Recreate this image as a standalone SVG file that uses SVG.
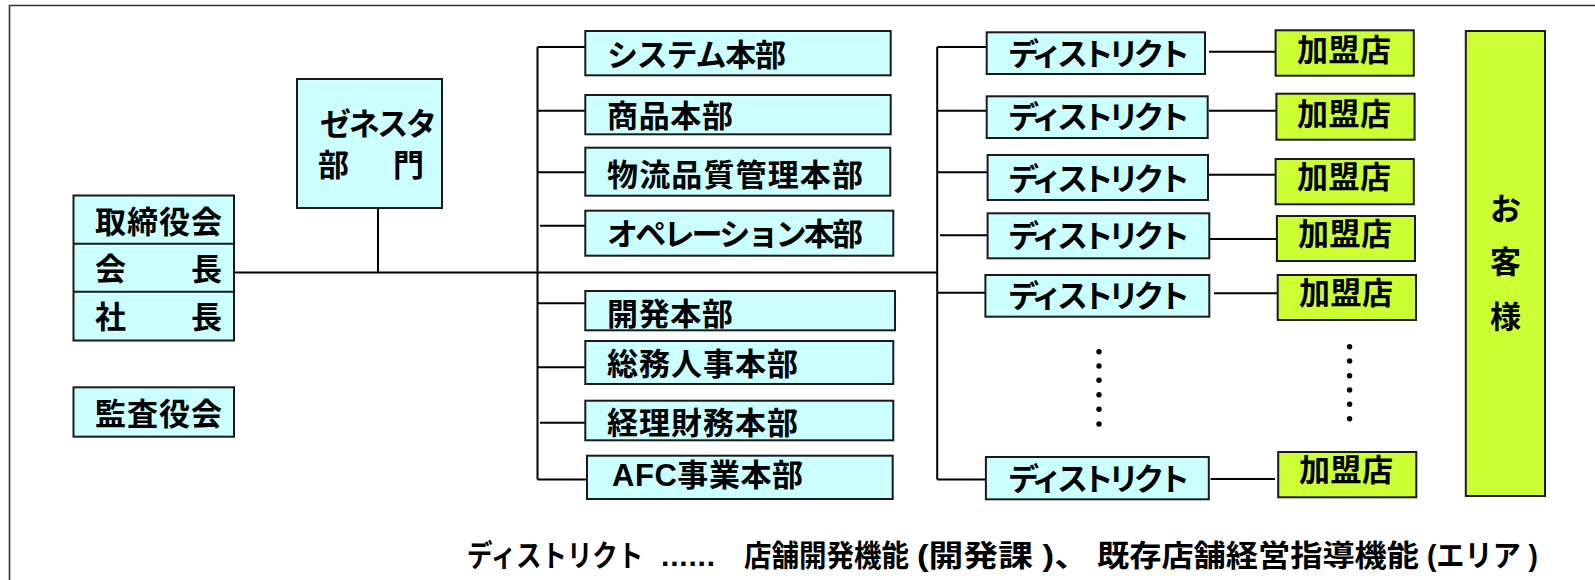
<svg xmlns="http://www.w3.org/2000/svg" width="1595" height="580" viewBox="0 0 1595 580">
<style>
.c{fill:#CCFFFF;stroke:#1a1a1a;stroke-width:2}
.y{fill:#CCFF33;stroke:#1a1a1a;stroke-width:2}
.t{font-family:"Liberation Sans","Noto Sans CJK JP",sans-serif;font-weight:bold;font-size:31px;fill:#000}
.n{font-size:30px}
.ln{stroke:#000;stroke-width:2;fill:none}
</style>
<rect x="0" y="0" width="1595" height="580" fill="#fff"/>
<path d="M9.5 580 V5.5 H1595" stroke="#333" stroke-width="1.6" fill="none"/>
<g id="connectors" class="ln">
<path d="M234 272.5 H937"/>
<path d="M378 208 V272.5"/>
<path d="M537.5 47 V479.5"/>
<path d="M537.5 47 H585"/>
<path d="M537.5 110.7 H585"/>
<path d="M537.5 172.3 H585"/>
<path d="M540 225.7 H588"/>
<path d="M537.5 303.3 H585"/>
<path d="M537.5 367.3 H585"/>
<path d="M540 422.7 H588"/>
<path d="M537.5 479.5 H587"/>
<path d="M937.2 47 V479.5"/>
<path d="M937.2 47 H987"/>
<path d="M937.2 110.7 H987"/>
<path d="M937.2 172.3 H988"/>
<path d="M940 235.3 H988"/>
<path d="M937.2 292.7 H985"/>
<path d="M937.2 479.5 H986"/>
<path d="M1209 51.7 H1276"/>
<path d="M1209 110.7 H1276"/>
<path d="M1209 174.7 H1276"/>
<path d="M1209 239 H1277"/>
<path d="M1214 293.3 H1278"/>
<path d="M1210.6 479 H1275"/>
</g>
<g id="zenesta"><rect class="c" x="297" y="79" width="145" height="129"/>
<text class="t" x="320" y="135" textLength="117">ゼネスタ</text>
<text class="t" x="318" y="176" textLength="106">部　門</text></g>
<g id="board"><rect class="c" x="73.5" y="195.5" width="160.5" height="145"/>
<path d="M73.5 243.7 H234 M73.5 291.7 H234" stroke="#1a1a1a" stroke-width="2"/>
<text class="t" x="95" y="233" textLength="127">取締役会</text>
<text class="t" x="95" y="279.5" textLength="127">会　　長</text>
<text class="t" x="95" y="328" textLength="127">社　　長</text></g>
<g id="audit"><rect class="c" x="73.5" y="387.3" width="160.5" height="49.4"/>
<text class="t" x="95" y="424.5" textLength="127">監査役会</text></g>
<g id="d-system"><rect class="c" x="585.3" y="31" width="305.4" height="44.3"/><text class="t" x="607" y="65.5" textLength="179">システム本部</text></g>
<g id="d-shohin"><rect class="c" x="585.3" y="95" width="305.4" height="39.3"/><text class="t" x="607" y="127" textLength="126">商品本部</text></g>
<g id="d-butsuryu"><rect class="c" x="585.3" y="147.7" width="305" height="48"/><text class="t" x="607" y="186" textLength="256">物流品質管理本部</text></g>
<g id="d-operation"><rect class="c" x="585.3" y="210.7" width="308" height="45"/><text class="t" x="607" y="244.5" textLength="256">オペレーション本部</text></g>
<g id="d-kaihatsu"><rect class="c" x="585.3" y="291" width="309.7" height="39.3"/><text class="t" x="607" y="324.5" textLength="126">開発本部</text></g>
<g id="d-somu"><rect class="c" x="585.3" y="341" width="308" height="43"/><text class="t" x="607" y="374.5" textLength="191">総務人事本部</text></g>
<g id="d-keiri"><rect class="c" x="585.3" y="400.7" width="308" height="39.6"/><text class="t" x="607" y="433.5" textLength="191">経理財務本部</text></g>
<g id="d-afc"><rect class="c" x="587" y="455.7" width="305.7" height="43.3"/><text class="t" x="612" y="486" textLength="191">AFC事業本部</text></g>
<g id="district1"><rect class="c" x="986.7" y="32.3" width="218.3" height="41.7"/><text class="t" x="1008" y="64.5" textLength="182">ディストリクト</text></g>
<g id="district2"><rect class="c" x="986.7" y="96.3" width="221" height="41.7"/><text class="t" x="1008" y="128" textLength="182">ディストリクト</text></g>
<g id="district3"><rect class="c" x="987.6" y="155" width="220.4" height="45"/><text class="t" x="1008" y="189.5" textLength="182">ディストリクト</text></g>
<g id="district4"><rect class="c" x="987.6" y="213.3" width="221.7" height="45"/><text class="t" x="1008" y="247" textLength="182">ディストリクト</text></g>
<g id="district5"><rect class="c" x="985.4" y="275" width="223.9" height="41.7"/><text class="t" x="1008" y="307" textLength="182">ディストリクト</text></g>
<g id="district6"><rect class="c" x="985.9" y="457" width="222.9" height="42.3"/><text class="t" x="1008" y="489.5" textLength="182">ディストリクト</text></g>
<g id="store1"><rect class="y" x="1275.6" y="30.3" width="138.2" height="45.4"/><text class="t" x="1297" y="60.5" textLength="94">加盟店</text></g>
<g id="store2"><rect class="y" x="1276.4" y="93.7" width="138.2" height="46"/><text class="t" x="1297" y="124.5" textLength="94">加盟店</text></g>
<g id="store3"><rect class="y" x="1275.6" y="159" width="138.2" height="45.3"/><text class="t" x="1297" y="188" textLength="94">加盟店</text></g>
<g id="store4"><rect class="y" x="1276.9" y="216" width="138.1" height="45"/><text class="t" x="1298" y="244.5" textLength="94">加盟店</text></g>
<g id="store5"><rect class="y" x="1277.7" y="275" width="138.3" height="45"/><text class="t" x="1299" y="304" textLength="94">加盟店</text></g>
<g id="store6"><rect class="y" x="1278.2" y="452" width="138.1" height="45.3"/><text class="t" x="1299" y="480.5" textLength="94">加盟店</text></g>
<g id="customer"><rect class="y" x="1465.8" y="31" width="79.2" height="465"/>
<text class="t" x="1505.5" y="219.5" text-anchor="middle">お</text>
<text class="t" x="1505.5" y="273" text-anchor="middle">客</text>
<text class="t" x="1505.5" y="328" text-anchor="middle">様</text></g>
<g id="dots" fill="#000">
<circle cx="1099" cy="351.7" r="2.7"/><circle cx="1099" cy="366" r="2.7"/><circle cx="1099" cy="380.3" r="2.7"/><circle cx="1099" cy="394.7" r="2.7"/><circle cx="1099" cy="409.3" r="2.7"/><circle cx="1099" cy="424" r="2.7"/>
<circle cx="1349.6" cy="346.7" r="2.7"/><circle cx="1349.6" cy="361" r="2.7"/><circle cx="1349.6" cy="375.7" r="2.7"/><circle cx="1349.6" cy="390" r="2.7"/><circle cx="1349.6" cy="404.3" r="2.7"/><circle cx="1349.6" cy="418.7" r="2.7"/>
</g>
<g id="note">
<text class="t n" transform="translate(467,566) scale(0.848,1)" x="0" y="0">ディストリクト</text>
<text class="t n" x="661" y="566" textLength="54">......</text>
<text class="t n" x="744" y="566" textLength="165" lengthAdjust="spacingAndGlyphs">店舗開発機能</text>
<text class="t n" x="917" y="566" textLength="172" lengthAdjust="spacingAndGlyphs">(開発課 )、</text>
<text class="t n" x="1097" y="566" textLength="322" lengthAdjust="spacingAndGlyphs">既存店舗経営指導機能</text>
<text class="t n" x="1427" y="566" textLength="111" lengthAdjust="spacingAndGlyphs">(エリア )</text>
</g>
</svg>
